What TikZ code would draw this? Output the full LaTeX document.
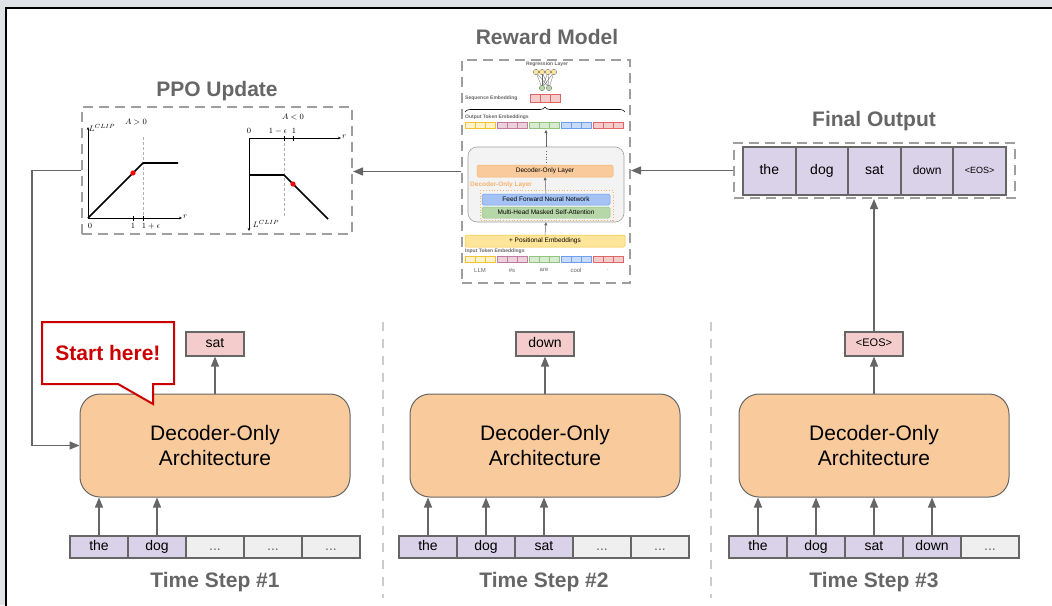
\documentclass[tikz,border=0pt]{standalone}
\usepackage[no-math]{fontspec}
\setmainfont{Liberation Sans}
\usepackage{xcolor}
\usepackage{amsmath,amssymb}
\usepackage{tikz}
\usetikzlibrary{arrows.meta,positioning,calc,decorations.pathreplacing}
\definecolor{ink}{HTML}{666666}
\definecolor{peach}{HTML}{F9CB9C}
\definecolor{rose}{HTML}{F4CCCC}
\definecolor{brose}{HTML}{E06666}
\definecolor{lilac}{HTML}{D9D2E9}
\definecolor{mist}{HTML}{EFEFEF}
\definecolor{alert}{HTML}{CC0000}
\definecolor{outside}{HTML}{DFE2E6}
\definecolor{grayline}{HTML}{9E9E9E}
\definecolor{sepgray}{HTML}{CCCCCC}
\definecolor{lyel}{HTML}{FFF2CC}
\definecolor{byel}{HTML}{F1C232}
\definecolor{lpur}{HTML}{EAD1DC}
\definecolor{bpur}{HTML}{C27BA0}
\definecolor{lgrn}{HTML}{D9EAD3}
\definecolor{bgrn}{HTML}{93C47D}
\definecolor{lblu}{HTML}{C9DAF8}
\definecolor{bblu}{HTML}{6D9EEB}
\definecolor{posyel}{HTML}{FFE599}
\definecolor{ffnblu}{HTML}{A4C2F4}
\definecolor{mhagrn}{HTML}{B6D7A8}
\definecolor{layer}{HTML}{F6B26B}
\definecolor{stackbg}{HTML}{F3F3F3}

\begin{document}
\begin{tikzpicture}[x=1pt,y=-1pt,
  dec/.style={draw=ink,fill=peach,line width=1pt,rounded corners=20pt,minimum width=270pt,minimum height=103pt,align=center,font=\fontsize{21}{25}\selectfont},
  tok/.style={draw=ink,line width=2pt,outer sep=0pt,inner sep=0pt,minimum width=58pt,minimum height=22pt,text height=10pt,text depth=3pt,font=\fontsize{14}{14}\selectfont},
  tin/.style={tok,fill=lilac},
  tnil/.style={tok,fill=mist,text=ink},
  ftok/.style={tok,fill=lilac,minimum width=52.6pt,minimum height=48pt},
  outb/.style={draw=ink,fill=rose,line width=2pt,inner sep=0pt,minimum width=58pt,minimum height=24pt,text height=10pt,text depth=3pt,font=\fontsize{14}{14}\selectfont},
  ttl/.style={font=\bfseries\fontsize{21}{21}\selectfont,text=ink},
  grp/.style={draw=grayline,line width=2pt,dash pattern=on 10pt off 6pt,inner sep=0pt},
  sepl/.style={draw=sepgray,line width=1.5pt,dash pattern=on 9pt off 8pt},
  arr/.style={-{Triangle[length=10pt,width=8pt]},draw=ink,line width=1.3pt},
  sarr/.style={-{Triangle[length=3pt,width=3pt]},draw=ink,line width=0.5pt},
  mini/.style={font=\bfseries\fontsize{5}{6}\selectfont,text=ink,inner sep=0pt},
  blk/.style={line width=0.5pt,rounded corners=1.5pt,inner sep=0pt,font=\fontsize{6.5}{7}\selectfont},
  ax/.style={-{Stealth[length=3pt,width=2.5pt]},line width=0.5pt},
  crv/.style={line width=1.6pt},
  lab/.style={font=\fontsize{8}{8}\selectfont,inner sep=1pt}]
  \fill[outside] (0,0) rectangle (1052,605);
  \useasboundingbox (0,0) rectangle (1052,605);
  \draw[fill=white,line width=2pt] (6,8) rectangle (1070,625);

  \node[ttl] (tppo) at (217,91) {PPO Update};
  \node[ttl] (trm) at (547,37) {Reward Model};
  \node[ttl] (tfo) at (874,121) {Final Output};
  \node[grp,minimum width=270pt,minimum height=127pt] (ppo) at (217,170.5) {};
  \node[grp,minimum width=168pt,minimum height=223pt] (rm) at (546,171.5) {};
  \node[grp,minimum width=281pt,minimum height=55pt] (fo) at (874.5,170.5) {};

  \draw[ax] (88,218) -- (88,127); \draw[ax] (88,218) -- (182,218);
  \draw[densely dashed,gray!60,line width=0.5pt] (143,137) -- (143,218);
  \draw[crv] (88,218) -- (143,163) -- (178,163);
  \fill[red] (133,173) circle (2.6);
  \draw[line width=0.5pt] (133,215.5) -- (133,220.5); \draw[line width=0.5pt] (143,215.5) -- (143,220.5);
  \node[lab] at (102,128) {$L^{CLIP}$};
  \node[lab] at (136,122) {$A>0$};
  \node[lab] at (90,226) {$0$};
  \node[lab] at (133,226) {$1$};
  \node[lab] at (151,226) {$1+\epsilon$};
  \node[lab,anchor=west] at (182,217) {$r$};
  \draw[ax] (249,138) -- (341,138); \draw[ax] (249,138) -- (249,231);
  \draw[densely dashed,gray!60,line width=0.5pt] (284,138) -- (284,218);
  \draw[crv] (249,175) -- (284,175) -- (328,219);
  \fill[red] (293,184) circle (2.6);
  \draw[line width=0.5pt] (284,135.5) -- (284,140.5); \draw[line width=0.5pt] (293,135.5) -- (293,140.5);
  \node[lab] at (249,131) {$0$};
  \node[lab] at (278,131) {$1-\epsilon$};
  \node[lab] at (294,131) {$1$};
  \node[lab] at (293,117) {$A<0$};
  \node[lab,anchor=west] at (341,137) {$r$};
  \node[lab] at (266,224) {$L^{CLIP}$};

  \node[mini] (reg) at (547,64) {Regression Layer};
  \foreach \u in {536,542,548,554} {\foreach \v in {542,549} \draw[ink,line width=0.3pt] (\u,72) -- (\v,88);}
  \foreach \u in {536,542,548,554} \draw[fill=posyel,draw=ink,line width=0.3pt] (\u,72) circle (2.7);
  \foreach \v in {542,549} \draw[fill=mhagrn,draw=ink,line width=0.3pt] (\v,88) circle (2.7);
  \node[mini,anchor=west] (seq) at (465,98) {Sequence Embedding};
  \foreach \j in {0,1,2} \draw[fill=rose,draw=brose,line width=0.5pt] ({530+10*\j},94) rectangle ++(10,8);
  \draw[decorate,decoration={brace,amplitude=5pt},line width=0.6pt] (465,112) -- (625,112);
  \node[mini,anchor=west] (oemb) at (465,117) {Output Token Embeddings};
  \node[mini,anchor=west] (iemb) at (465,251.5) {Input Token Embeddings};
  \foreach \c/\b [count=\i from 0] in {lyel/byel,lpur/bpur,lgrn/bgrn,lblu/bblu,rose/brose} {
    \foreach \j in {0,1,2} {
      \draw[fill=\c,draw=\b,line width=0.5pt] ({465+32*\i+10*\j},122) rectangle ++(10,6.5);
      \draw[fill=\c,draw=\b,line width=0.5pt] ({465+32*\i+10*\j},256) rectangle ++(10,6.5);
    }
  }
  \coordinate (otop) at (546,130);
  \node[blk,text=ink,font=\fontsize{6}{6}\selectfont] at (480,270) {LLM};
  \node[blk,text=ink,font=\fontsize{6}{6}\selectfont] at (512,270) {\#s};
  \node[blk,text=ink,font=\fontsize{6}{6}\selectfont] at (544,270) {are};
  \node[blk,text=ink,font=\fontsize{6}{6}\selectfont] at (576,270) {cool};
  \node[blk,text=ink,font=\fontsize{6}{6}\selectfont] at (608,270) {.};
  \node[draw=grayline,fill=stackbg,line width=0.6pt,rounded corners=9pt,minimum width=156pt,minimum height=75pt] (stack) at (546,184.5) {};
  \node[blk,draw=layer,fill=peach,minimum width=136pt,minimum height=12pt] (dol) at (545,171) {Decoder-Only Layer};
  \node[anchor=west,inner sep=0pt,text=layer,font=\bfseries\fontsize{6.5}{7}\selectfont] (doll) at (470,185) {Decoder-Only Layer};
  \draw[layer,dotted,line width=0.8pt] (480,190) rectangle (613,220);
  \node[blk,draw=bblu,fill=ffnblu,minimum width=128pt,minimum height=11pt] (ffn) at (546,199.5) {Feed Forward Neural Network};
  \node[blk,draw=bgrn,fill=mhagrn,minimum width=128pt,minimum height=11pt] (mha) at (546,212.5) {Multi-Head Masked Self-Attention};
  \node[blk,draw=byel,fill=posyel,minimum width=160pt,minimum height=12pt] (pe) at (545,241) {+ Positional Embeddings};
  \draw[sarr] (pe.north) -- (stack.south);
  \draw[sarr] (ffn.north) -- (dol.south);
  \draw[sarr] (stack.north) -- (otop);
  \draw[ink,dotted,line width=0.8pt] (546,151) -- (546,163);

  \node[ftok] (f1) at (769.3,171) {the};
  \node[ftok,right=0pt of f1] (f2) {dog};
  \node[ftok,right=0pt of f2] (f3) {sat};
  \node[ftok,right=0pt of f3,font=\fontsize{12}{12}\selectfont] (f4) {down};
  \node[ftok,right=0pt of f4,font=\fontsize{9}{9}\selectfont,text height=7pt,text depth=2pt] (f5) {<EOS>};

  \node[dec] (d1) at (215,445.5) {Decoder-Only\\Architecture};
  \node[dec] (d2) at (545,445.5) {Decoder-Only\\Architecture};
  \node[dec] (d3) at (874,445.5) {Decoder-Only\\Architecture};
  \node[outb] (o1) at (215,343.5) {sat};
  \node[outb] (o2) at (545,343.5) {down};
  \node[outb,font=\fontsize{11}{11}\selectfont,text height=8pt,text depth=2pt] (o3) at (874,343.5) {<EOS>};

  \node[tin] (a1) at (99,547) {the};
  \node[tin,right=0pt of a1] (a2) {dog};
  \node[tnil,right=0pt of a2] (a3) {...};
  \node[tnil,right=0pt of a3] (a4) {...};
  \node[tnil,right=0pt of a4] (a5) {...};
  \node[tin] (b1) at (428,547) {the};
  \node[tin,right=0pt of b1] (b2) {dog};
  \node[tin,right=0pt of b2] (b3) {sat};
  \node[tnil,right=0pt of b3] (b4) {...};
  \node[tnil,right=0pt of b4] (b5) {...};
  \node[tin] (c1) at (758,547) {the};
  \node[tin,right=0pt of c1] (c2) {dog};
  \node[tin,right=0pt of c2] (c3) {sat};
  \node[tin,right=0pt of c3] (c4) {down};
  \node[tnil,right=0pt of c4] (c5) {...};
  \node[ttl] (s1) at (215,582) {Time Step \#1};
  \node[ttl] (s2) at (544,582) {Time Step \#2};
  \node[ttl] (s3) at (874,582) {Time Step \#3};

  \draw[sepl] (383,322) -- (383,598); \draw[sepl] (711,322) -- (711,598);

  \draw[arr] (a1.north) -- (a1.north |- d1.south); \draw[arr] (a2.north) -- (a2.north |- d1.south);
  \draw[arr] (b1.north) -- (b1.north |- d2.south); \draw[arr] (b2.north) -- (b2.north |- d2.south);
  \draw[arr] (b3.north) -- (b3.north |- d2.south);
  \draw[arr] (c1.north) -- (c1.north |- d3.south); \draw[arr] (c2.north) -- (c2.north |- d3.south);
  \draw[arr] (c3.north) -- (c3.north |- d3.south); \draw[arr] (c4.north) -- (c4.north |- d3.south);
  \draw[arr] (d1.north) -- (o1.south); \draw[arr] (d2.north) -- (o2.south); \draw[arr] (d3.north) -- (o3.south);
  \draw[arr] (o3.north) -- (o3.north |- fo.south);
  \draw[arr] (fo.west) -- (fo.west -| rm.east);
  \draw[arr] (rm.west) -- (rm.west -| ppo.east);
  \draw[arr] (ppo.west) -- ++(-49,0) |- (d1.west);

  \draw[alert,fill=white,line width=2pt,line join=miter] (42,322) -- (174,322) -- (174,384) -- (153,384) -- (153,404) -- (118,384) -- (42,384) -- cycle;
  \node[font=\bfseries\fontsize{21}{21}\selectfont,text=alert] (hint) at (108,353) {Start here!};
\end{tikzpicture}
\end{document}
